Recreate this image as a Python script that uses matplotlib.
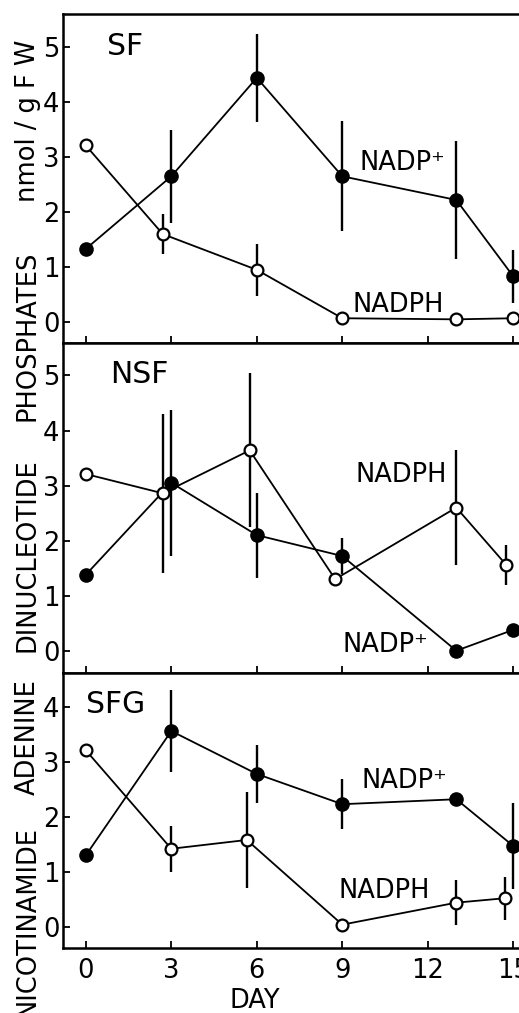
import matplotlib
matplotlib.use("Agg")
import matplotlib.pyplot as plt

plt.rcParams["font.family"] = ["DejaVu Sans"]

# x ticks (days)
day_ticks = [0, 3, 6, 9, 12, 15]

# SF panel
days_nadp_sf = [0, 3, 6, 9, 13, 15]
nadp_sf = [1.33, 2.65, 4.44, 2.65, 2.22, 0.83]
nadp_sf_err = [0, 0.84, 0.80, 1.00, 1.07, 0.48]
days_nadph_sf = [0, 2.7, 6, 9, 13, 15]
nadph_sf = [3.21, 1.60, 0.95, 0.07, 0.05, 0.07]
nadph_sf_err = [0, 0.36, 0.47, 0, 0, 0]

# NSF panel
days_nadp_nsf = [0, 3, 6, 9, 13, 15]
nadp_nsf = [1.38, 3.05, 2.10, 1.72, 0.0, 0.38]
nadp_nsf_err = [0, 1.33, 0.77, 0.33, 0, 0]
days_nadph_nsf = [0, 2.7, 5.75, 8.75, 13, 14.75]
nadph_nsf = [3.21, 2.86, 3.64, 1.30, 2.60, 1.56]
nadph_nsf_err = [0, 1.44, 1.40, 0, 1.04, 0.36]

# SFG panel
days_nadp_sfg = [0, 3, 6, 9, 13, 15]
nadp_sfg = [1.30, 3.56, 2.78, 2.23, 2.32, 1.47]
nadp_sfg_err = [0, 0.74, 0.52, 0.45, 0, 0.79]
days_nadph_sfg = [0, 3, 5.65, 9, 13, 14.7]
nadph_sfg = [3.21, 1.42, 1.58, 0.04, 0.44, 0.52]
nadph_sfg_err = [0, 0.42, 0.88, 0, 0.41, 0.39]

W, H = 519, 1013
fig = plt.figure(figsize=(W / 100, H / 100), dpi=100)

left = 63 / W
edges = [14, 343, 673.3, 948.3]  # panel borders in px from top
ylims = [(-0.38, 5.6), (-0.41, 5.59), (-0.39, 4.61)]
yticks = [range(0, 6), range(0, 6), range(0, 5)]

FS = 18.5


def panel(i, dn, vn, en, dh, vh, eh, name, name_xy, plus_xy, h_xy):
    top, bot = edges[i], edges[i + 1]
    ax = fig.add_axes([left, 1 - bot / H, 1 - left, (bot - top) / H])
    ax.errorbar(dn, vn, yerr=en, fmt="-o", color="black", lw=1.3,
                elinewidth=1.7, capsize=0, ms=9.5, mfc="black", mec="black", zorder=3)
    ax.errorbar(dh, vh, yerr=eh, fmt="-o", color="black", lw=1.3,
                elinewidth=1.7, capsize=0, ms=8.5, mfc="white", mec="black",
                mew=1.6, zorder=4)
    ax.set_xlim(-0.8, 15.2)
    ax.set_ylim(*ylims[i])
    ax.set_xticks(day_ticks)
    ax.set_yticks(list(yticks[i]))
    ax.spines["right"].set_visible(False)
    for s in ["left", "top", "bottom"]:
        ax.spines[s].set_linewidth(1.8)
    ax.tick_params(axis="both", direction="in", length=5, width=1.3,
                   labelsize=FS, pad=2.5)
    ax.tick_params(axis="x", pad=7)
    if i < 2:
        ax.tick_params(axis="x", labelbottom=False)
    ax.text(name_xy[0], name_xy[1], name, fontsize=21.5, va="baseline")
    ax.text(plus_xy[0], plus_xy[1], "NADP⁺", fontsize=FS, va="baseline")
    ax.text(h_xy[0], h_xy[1], "NADPH", fontsize=FS, va="baseline")
    return ax


panel(0, days_nadp_sf, nadp_sf, nadp_sf_err, days_nadph_sf, nadph_sf, nadph_sf_err,
      "SF", (0.74, 4.85), (9.61, 2.76), (9.37, 0.18))
panel(1, days_nadp_nsf, nadp_nsf, nadp_nsf_err, days_nadph_nsf, nadph_nsf, nadph_nsf_err,
      "NSF", (0.84, 4.87), (9.02, -0.02), (9.47, 3.07))
ax3 = panel(2, days_nadp_sfg, nadp_sfg, nadp_sfg_err, days_nadph_sfg, nadph_sfg, nadph_sfg_err,
            "SFG", (0.0, 3.89), (9.68, 2.52), (8.88, 0.52))

ax3.set_xlabel("DAY", fontsize=FS)
ax3.xaxis.set_label_coords((255 - 63) / (W - 63), -0.145)
ax3.xaxis.label.set_va("top")

# long y label, split in words
ylabel_parts = ["nmol / g F W", "PHOSPHATES", "DINUCLEOTIDE", "ADENINE", "NICOTINAMIDE"]
ylabel_y = [121, 336, 555, 737, 921]
for txt, yy in zip(ylabel_parts, ylabel_y):
    fig.text(28 / W, 1 - yy / H, txt, rotation=90, fontsize=FS,
             ha="center", va="center")

fig.savefig("out.png", dpi=100)
